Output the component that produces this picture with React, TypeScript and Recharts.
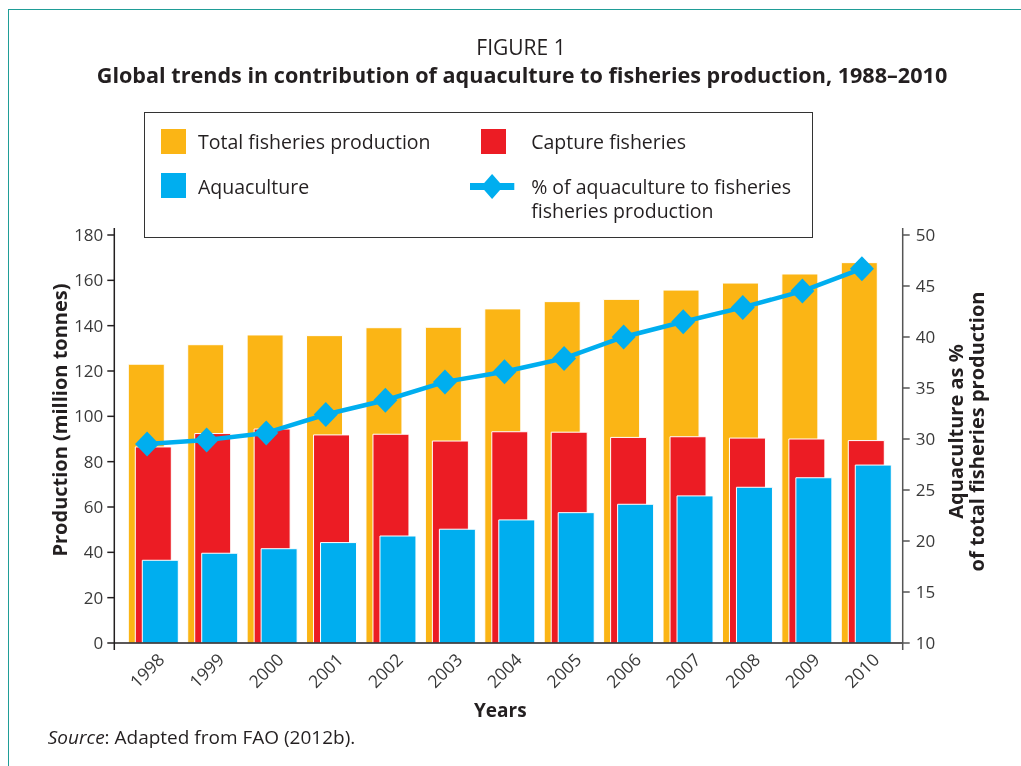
import React from 'react';
import {
  ComposedChart,
  Bar,
  Line,
  XAxis,
  YAxis,
  ReferenceLine,
} from 'recharts';

const years = ['1998', '1999', '2000', '2001', '2002', '2003', '2004', '2005', '2006', '2007', '2008', '2009', '2010'];
const totalProduction = [123.0, 131.6, 135.9, 135.6, 139.1, 139.3, 147.4, 150.6, 151.6, 155.7, 158.8, 162.8, 167.8];
const captureFisheries = [86.5, 92.4, 94.4, 91.8, 92.1, 89.1, 93.2, 93.0, 90.7, 91.0, 90.4, 90.0, 89.3];
const aquaculture = [36.5, 39.6, 41.6, 44.3, 47.2, 50.2, 54.3, 57.5, 61.2, 64.9, 68.7, 72.9, 78.5];
const aquaculturePercent = [29.5, 29.9, 30.6, 32.4, 33.8, 35.6, 36.6, 37.9, 40.0, 41.5, 42.9, 44.5, 46.7];
const leftTicks = [0, 20, 40, 60, 80, 100, 120, 140, 160, 180];
const rightTicks = [10, 15, 20, 25, 30, 35, 40, 45, 50];

const data = years.map((year, i) => ({
  year,
  total: totalProduction[i],
  capture: captureFisheries[i],
  aqua: aquaculture[i],
  pct: aquaculturePercent[i],
}));

const FONT = "'Open Sans', sans-serif";
const ORANGE = '#fbb515';
const RED = '#ec1c24';
const BLUE = '#00aeef';
const TEXT = '#231f20';
const TICK = '#3a3a3a';

const Diamond = (props: any) => {
  const { cx, cy, index } = props;
  if (cx == null || cy == null) return null;
  return (
    <path
      key={`d-${index}`}
      d={`M${cx},${cy - 12.5}L${cx + 12},${cy}L${cx},${cy + 12.5}L${cx - 12},${cy}Z`}
      fill={BLUE}
    />
  );
};

const YearTick = (props: any) => {
  const { x, y, payload } = props;
  return (
    <g transform={`translate(${x - 0.5},${y + 20})`}>
      <text
        textAnchor="middle"
        dominantBaseline="central"
        transform="rotate(-45)"
        fontSize={17.5}
        fill={TICK}
        fontFamily={FONT}
      >
        {payload.value}
      </text>
    </g>
  );
};

const LeftTitle = (props: any) => {
  const vb = props.viewBox || { x: 0, y: 0, width: 0, height: 0 };
  const x = vb.x + 5.5;
  const y = vb.y + 192;
  return (
    <text
      x={x}
      y={y}
      transform={`rotate(-90, ${x}, ${y})`}
      textAnchor="middle"
      dominantBaseline="central"
      fontSize={20}
      fontWeight={700}
      fill={TEXT}
      fontFamily={FONT}
    >
      Production (million tonnes)
    </text>
  );
};

const RightTitle = (props: any) => {
  const vb = props.viewBox || { x: 0, y: 0, width: 0, height: 0 };
  const x1 = vb.x + 52.5;
  const x2 = vb.x + 74;
  const y = vb.y + 203.5;
  return (
    <g>
      <text
        x={x1}
        y={y}
        transform={`rotate(-90, ${x1}, ${y})`}
        textAnchor="middle"
        dominantBaseline="central"
        fontSize={20}
        fontWeight={700}
        fill={TEXT}
        fontFamily={FONT}
      >
        Aquaculture as %
      </text>
      <text
        x={x2}
        y={y}
        transform={`rotate(-90, ${x2}, ${y})`}
        textAnchor="middle"
        dominantBaseline="central"
        fontSize={20}
        fontWeight={700}
        fill={TEXT}
        fontFamily={FONT}
      >
        of total fisheries production
      </text>
    </g>
  );
};

const XTitle = (props: any) => {
  const vb = props.viewBox || { x: 0, y: 0, width: 0, height: 0 };
  return (
    <text
      x={vb.x + 386}
      y={vb.y + 60}
      textAnchor="middle"
      dominantBaseline="central"
      fontSize={19}
      fontWeight={700}
      fill={TEXT}
      fontFamily={FONT}
    >
      Years
    </text>
  );
};

const legendText: React.CSSProperties = {
  position: 'absolute',
  fontFamily: FONT,
  fontSize: 19.5,
  lineHeight: '19.5px',
  color: TEXT,
  whiteSpace: 'nowrap',
};

const Swatch = ({ left, top, color }: { left: number; top: number; color: string }) => (
  <div style={{ position: 'absolute', left, top, width: 25, height: 25, background: color }} />
);

const LegendBox = () => (
  <div
    style={{
      position: 'absolute',
      left: 135.5,
      top: 104,
      width: 669.5,
      height: 125.5,
      border: '1.5px solid #333',
      boxSizing: 'border-box',
      background: '#fff',
    }}
  >
    <Swatch left={16} top={16} color={ORANGE} />
    <div style={{ ...legendText, left: 53.5, top: 18.5 }}>Total fisheries production</div>
    <Swatch left={336.7} top={15.5} color={RED} />
    <div style={{ ...legendText, left: 386.7, top: 18.5 }}>Capture fisheries</div>
    <Swatch left={16} top={59.5} color={BLUE} />
    <div style={{ ...legendText, left: 53.5, top: 63.5 }}>Aquaculture</div>
    <svg
      style={{ position: 'absolute', left: 325.7, top: 60, overflow: 'visible' }}
      width={45}
      height={27}
    >
      <rect x={0} y={10} width={44.3} height={7} fill={BLUE} />
      <path d="M22.1,1 L33.1,13.5 L22.1,26 L11.1,13.5 Z" fill={BLUE} />
    </svg>
    <div style={{ ...legendText, left: 386.7, top: 63.5 }}>% of aquaculture to fisheries</div>
    <div style={{ ...legendText, left: 386.7, top: 88.2 }}>fisheries production</div>
  </div>
);

export default function App() {
  return (
    <div style={{ position: 'relative', width: 1013, height: 750, overflow: 'hidden', background: '#fff' }}>
      <div
        style={{
          position: 'fixed',
          left: 8,
          top: 9,
          width: 2000,
          height: 2000,
          borderTop: '1.5px solid #1f9d97',
          borderLeft: '1.5px solid #1f9d97',
          pointerEvents: 'none',
        }}
      />
      <div
        style={{
          position: 'absolute',
          left: 513,
          top: 29.4,
          transform: 'translateX(-50%)',
          fontFamily: FONT,
          fontSize: 21,
          lineHeight: '21px',
          color: TEXT,
          whiteSpace: 'nowrap',
        }}
      >
        FIGURE 1
      </div>
      <div
        style={{
          position: 'absolute',
          left: 514,
          top: 56.1,
          transform: 'translateX(-50%)',
          fontFamily: FONT,
          fontSize: 21.6,
          lineHeight: '21.6px',
          fontWeight: 700,
          color: TEXT,
          whiteSpace: 'nowrap',
        }}
      >
        Global trends in contribution of aquaculture to fisheries production, 1988–2010
      </div>
      <div style={{ position: 'absolute', left: 0, top: 0 }}>
        <ComposedChart
          width={1013}
          height={742}
          data={data}
          margin={{ top: 220, right: 58.3, bottom: 70, left: 46.3 }}
          barGap={-29}
        >
          <XAxis dataKey="year" xAxisId="bar" hide height={0} padding={{ left: 9, right: 7 }} />
          <XAxis
            dataKey="year"
            xAxisId="line"
            height={30}
            padding={{ left: 3, right: 11 }}
            axisLine={false}
            tickLine={false}
            tickSize={0}
            tickMargin={0}
            interval={0}
            tick={<YearTick />}
            label={<XTitle />}
          />
          <YAxis
            yAxisId="left"
            width={60}
            domain={[-3.088, 183.088]}
            ticks={leftTicks}
            allowDataOverflow
            interval={0}
            tickSize={7}
            tickMargin={4}
            axisLine={{ stroke: TEXT, strokeWidth: 1.5 }}
            tickLine={{ stroke: TEXT, strokeWidth: 1.5 }}
            tick={{ fill: TICK, fontSize: 17, fontFamily: FONT }}
            label={<LeftTitle />}
          />
          <YAxis
            yAxisId="right"
            orientation="right"
            width={60}
            domain={[9.314, 50.686]}
            ticks={rightTicks}
            allowDataOverflow
            interval={0}
            tickSize={7}
            tickMargin={6}
            axisLine={{ stroke: '#555', strokeWidth: 1.5 }}
            tickLine={{ stroke: '#555', strokeWidth: 1.5 }}
            tick={{ fill: TICK, fontSize: 17, fontFamily: FONT }}
            label={<RightTitle />}
          />
          <Bar
            dataKey="total"
            name="Total fisheries production"
            xAxisId="bar"
            yAxisId="left"
            barSize={36}
            fill={ORANGE}
            stroke="#ffffff"
            strokeWidth={1}
            isAnimationActive={false}
          />
          <Bar
            dataKey="capture"
            name="Capture fisheries"
            xAxisId="bar"
            yAxisId="left"
            barSize={36}
            fill={RED}
            stroke="#ffffff"
            strokeWidth={1}
            isAnimationActive={false}
          />
          <Bar
            dataKey="aqua"
            name="Aquaculture"
            xAxisId="bar"
            yAxisId="left"
            barSize={36}
            fill={BLUE}
            stroke="#ffffff"
            strokeWidth={1}
            isAnimationActive={false}
          />
          <ReferenceLine y={0} xAxisId="bar" yAxisId="left" stroke={TEXT} strokeWidth={1.5} />
          <Line
            dataKey="pct"
            name="% of aquaculture to fisheries production"
            xAxisId="line"
            yAxisId="right"
            stroke={BLUE}
            strokeWidth={4.5}
            dot={Diamond}
            activeDot={false}
            isAnimationActive={false}
          />
        </ComposedChart>
      </div>
      <LegendBox />
      <div
        style={{
          position: 'absolute',
          left: 39.8,
          top: 719.6,
          fontFamily: FONT,
          fontSize: 19,
          lineHeight: '19px',
          color: TEXT,
          whiteSpace: 'nowrap',
        }}
      >
        <i>Source</i>: Adapted from FAO (2012b).
      </div>
    </div>
  );
}
